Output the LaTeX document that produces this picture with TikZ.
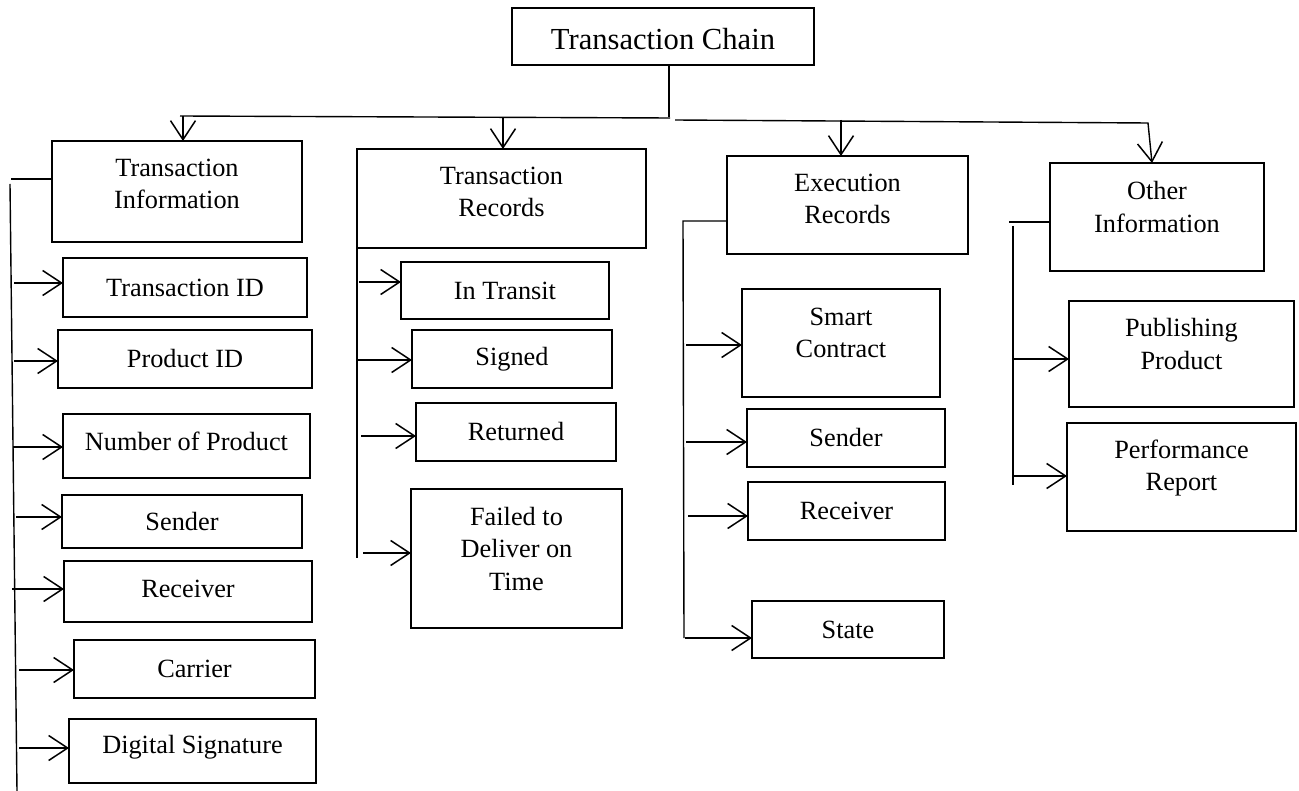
\documentclass[tikz,border=0pt]{standalone}
\usepackage{fontspec}
\setmainfont{Liberation Serif}
\usetikzlibrary{arrows.meta}
\begin{document}
\begin{tikzpicture}[x=1pt,y=-1pt,
  box/.style={draw, line width=1.4pt, inner sep=0pt, outer sep=0pt, align=center, font=\fontsize{26.3}{32.5}\selectfont},
  txt/.style={inner sep=0pt, align=center, font=\fontsize{26.3}{32.5}\selectfont},
  ttl/.style={inner sep=0pt, font=\fontsize{30.6}{36}\selectfont},
  ln/.style={line width=1.4pt},
  arr/.style={line width=1.4pt, -{Straight Barb[length=19pt,width=25pt,line width=1.5pt]}},
]
\useasboundingbox (0,0) rectangle (1299,791);

% ---- top ----
\node[box, minimum width=302pt, minimum height=57pt] (chain) at (663,36.5) {};
\node[ttl] (chaint) at (663,39) {Transaction Chain};

% ---- level 1 boxes ----
\node[box, minimum width=250pt, minimum height=101pt] (ti) at (177,191.5) {};
\node[txt] (tit) at (177,184) {Transaction\\Information};
\node[box, minimum width=289pt, minimum height=99pt] (tr) at (501.5,198.5) {};
\node[txt] (trt) at (501.5,192) {Transaction\\Records};
\node[box, minimum width=241pt, minimum height=98pt] (er) at (847.5,205) {};
\node[txt] (ert) at (847.5,199) {Execution\\Records};
\node[box, minimum width=214pt, minimum height=108pt] (oi) at (1157,217) {};
\node[txt] (oit) at (1157,207) {Other\\Information};

% ---- Transaction Information children ----
\node[box, minimum width=244pt, minimum height=59pt] (tid) at (185,287.5) {Transaction ID};
\node[box, minimum width=254pt, minimum height=58pt] (pid) at (185,359) {Product ID};
\node[box, minimum width=247pt, minimum height=64pt] (nop) at (186.5,446) {};
\node[txt] (nopt) at (186.5,441) {Number of Product};
\node[box, minimum width=240pt, minimum height=53pt] (snda) at (182,521.5) {Sender};
\node[box, minimum width=248pt, minimum height=61pt] (rcva) at (188,591.5) {};
\node[txt] (rcvat) at (188,589) {Receiver};
\node[box, minimum width=241pt, minimum height=58pt] (car) at (194.5,669) {Carrier};
\node[box, minimum width=247pt, minimum height=64pt] (dsg) at (192.5,751) {};
\node[txt] (dsgt) at (192.5,747) {Digital Signature};

% ---- Transaction Records children ----
\node[box, minimum width=208pt, minimum height=57pt] (intr) at (505,290.5) {In Transit};
\node[box, minimum width=200pt, minimum height=58pt] (sgn) at (512,359) {Signed};
\node[box, minimum width=200pt, minimum height=58pt] (ret) at (516,432) {Returned};
\node[box, minimum width=211pt, minimum height=139pt] (fail) at (516.5,558.5) {};
\node[txt] (failt) at (516.5,549) {Failed to\\Deliver on\\Time};

% ---- Execution Records children ----
\node[box, minimum width=198pt, minimum height=108pt] (smc) at (841,343) {};
\node[txt] (smct) at (841,333) {Smart\\Contract};
\node[box, minimum width=198pt, minimum height=58pt] (sndb) at (846,438) {Sender};
\node[box, minimum width=197pt, minimum height=58pt] (rcvb) at (846.5,511) {Receiver};
\node[box, minimum width=192pt, minimum height=57pt] (st) at (848,629.5) {State};

% ---- Other Information children ----
\node[box, minimum width=225pt, minimum height=106pt] (pub) at (1181.5,354) {};
\node[txt] (pubt) at (1181.5,344) {Publishing\\Product};
\node[box, minimum width=229pt, minimum height=108pt] (perf) at (1181.5,477) {};
\node[txt] (perft) at (1181.5,468) {Performance\\Report};

% ---- top connectors ----
\coordinate (cb) at (669,117);
\draw[ln] (cb |- chain.south) -- (cb);
\coordinate (lb1) at (180,116);
\coordinate (lb2) at (670,118);
\draw[ln] (lb1) -- (lb2);
\coordinate (tiA) at (183,116);
\draw[arr] (tiA) -- (tiA |- ti.north);
\coordinate (trA) at (503,118);
\draw[arr] (trA) -- (trA |- tr.north);
\coordinate (rb1) at (675,120);
\coordinate (rb2) at (1148,123);
\coordinate (oiA) at (1152,0);
\draw[arr] (rb1) -- (rb2) -- (oiA |- oi.north);
\coordinate (erA) at (841,120);
\draw[arr] (erA) -- (erA |- er.north);

% ---- Transaction Information branch ----
\coordinate (tiB) at (11,179);
\draw[ln] (tiB) -- (tiB -| ti.west);
\coordinate (tiV1) at (10,184);
\coordinate (tiV2) at (17,791);
\draw[ln] (tiV1) -- (tiV2);
\coordinate (a1) at (14,283);
\coordinate (a2) at (14,361);
\coordinate (a3) at (13,447);
\coordinate (a4) at (16,517);
\coordinate (a5) at (12,589);
\coordinate (a6) at (19,670);
\coordinate (a7) at (19,748);
\draw[arr] (a1) -- (a1 -| tid.west);
\draw[arr] (a2) -- (a2 -| pid.west);
\draw[arr] (a3) -- (a3 -| nop.west);
\draw[arr] (a4) -- (a4 -| snda.west);
\draw[arr] (a5) -- (a5 -| rcva.west);
\draw[arr] (a6) -- (a6 -| car.west);
\draw[arr] (a7) -- (a7 -| dsg.west);

% ---- Transaction Records branch ----
\coordinate (trV2) at (357,558);
\draw[ln] (tr.south west) -- (trV2);
\coordinate (b1) at (359,282);
\coordinate (b2) at (357,360);
\coordinate (b3) at (361,436);
\coordinate (b4) at (363,553);
\draw[arr] (b1) -- (b1 -| intr.west);
\draw[arr] (b2) -- (b2 -| sgn.west);
\draw[arr] (b3) -- (b3 -| ret.west);
\draw[arr] (b4) -- (b4 -| fail.west);

% ---- Execution Records branch ----
\coordinate (erB) at (683,221);
\coordinate (erV2) at (684,638);
\draw[ln] (erB -| er.west) -- (erB) -- (erV2);
\coordinate (c1) at (686,345);
\coordinate (c2) at (686,442);
\coordinate (c3) at (688,516);
\coordinate (c4) at (685,638);
\draw[arr] (c1) -- (c1 -| smc.west);
\draw[arr] (c2) -- (c2 -| sndb.west);
\draw[arr] (c3) -- (c3 -| rcvb.west);
\draw[arr] (c4) -- (c4 -| st.west);

% ---- Other Information branch ----
\coordinate (oiB) at (1009,222);
\draw[ln] (oiB) -- (oiB -| oi.west);
\coordinate (oiV1) at (1013,226);
\coordinate (oiV2) at (1013,485);
\draw[ln] (oiV1) -- (oiV2);
\coordinate (d1) at (1014,359);
\coordinate (d2) at (1014,476);
\draw[arr] (d1) -- (d1 -| pub.west);
\draw[arr] (d2) -- (d2 -| perf.west);
\end{tikzpicture}
\end{document}
